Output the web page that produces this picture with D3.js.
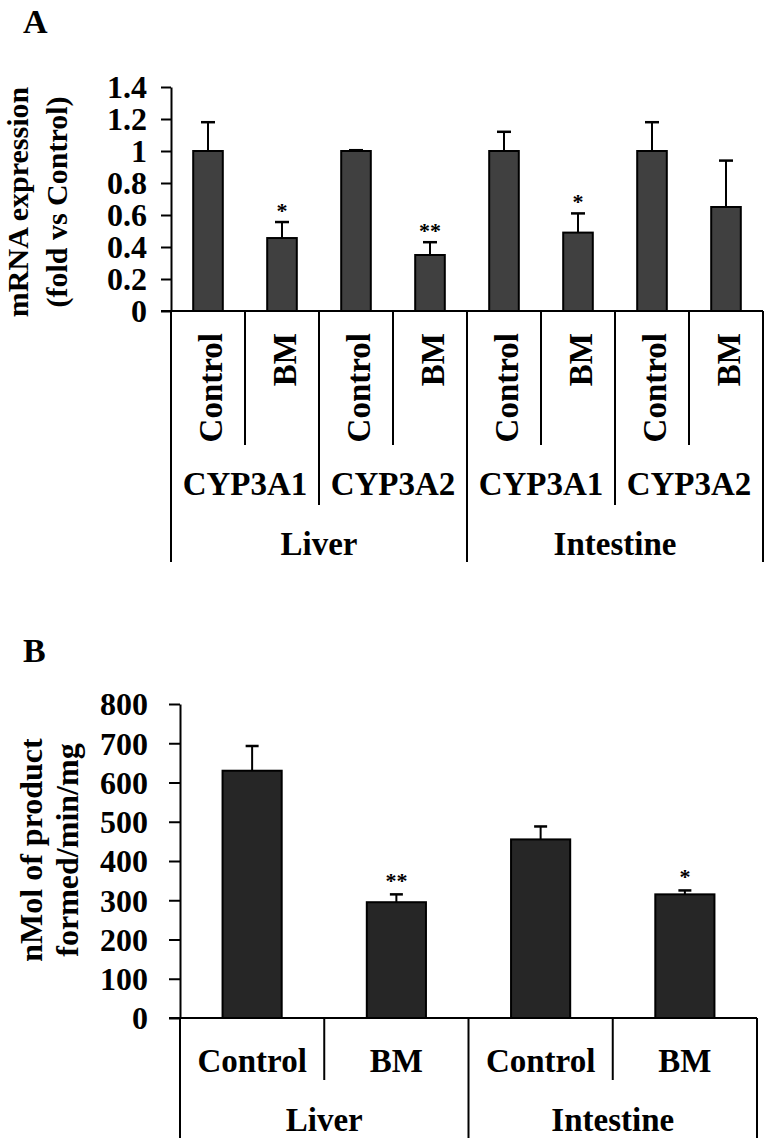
<!DOCTYPE html>
<html>
<head>
<meta charset="utf-8">
<script src="https://cdn.jsdelivr.net/npm/d3@7"></script>
<style>
  html, body { margin: 0; padding: 0; background: #fff; }
  svg { display: block; }
  text { font-family: "Liberation Serif", "Times New Roman", serif; font-weight: bold; fill: #000; }
</style>
</head>
<body>
<script>
// ---------- Panel A data ----------
const sampleA = ["Control", "BM", "Control", "BM", "Control", "BM", "Control", "BM"];
const geneA = ["CYP3A1", "CYP3A2", "CYP3A1", "CYP3A2"];
const tissueA = ["Liver", "Intestine"];
const valuesA = [1.0, 0.456, 1.0, 0.35, 1.0, 0.49, 1.0, 0.65];
const errorsA = [0.18, 0.10, 0.005, 0.08, 0.12, 0.12, 0.18, 0.29];
const sigA = ["", "*", "", "**", "", "*", "", ""];
const ticksA = [0, 0.2, 0.4, 0.6, 0.8, 1, 1.2, 1.4];
const tickLabelsA = ["0", "0.2", "0.4", "0.6", "0.8", "1", "1.2", "1.4"];
const titleA = ["mRNA expression", "(fold vs Control)"];

// ---------- Panel B data ----------
const sampleB = ["Control", "BM", "Control", "BM"];
const tissueB = ["Liver", "Intestine"];
const valuesB = [630, 295, 455, 315];
const errorsB = [63, 20, 33, 10];
const sigB = ["", "**", "", "*"];
const ticksB = [0, 100, 200, 300, 400, 500, 600, 700, 800];
const tickLabelsB = ["0", "100", "200", "300", "400", "500", "600", "700", "800"];
const titleB = ["nMol of product", "formed/min/mg"];

const W = 773, H = 1148;
const svg = d3.select("body").append("svg").attr("width", W).attr("height", H);

function panel(cfg) {
  const g = svg.append("g");
  const n = cfg.samples.length;
  const x = d3.scaleBand().domain(d3.range(n)).range([cfg.x0, cfg.x1])
    .paddingInner(cfg.padIn).paddingOuter(cfg.padIn / 2);
  const y = d3.scaleLinear().domain(cfg.domain).range([cfg.y0, cfg.yTop]);
  const step = x.step();
  const left = x(0) - x.step() * x.paddingOuter();

  // panel letter
  g.append("text").attr("x", 23).attr("y", cfg.letterY).attr("font-size", 34).text(cfg.letter);

  // y axis
  const axis = d3.axisLeft(y).tickValues(cfg.ticks)
    .tickFormat((d, i) => cfg.tickLabels[i])
    .tickSize(cfg.tickSize).tickSizeOuter(0).tickPadding(cfg.tickPad);
  const ag = g.append("g").attr("transform", `translate(${cfg.x0},0)`).call(axis);
  ag.select(".domain").attr("stroke", "#000").attr("stroke-width", 2);
  ag.selectAll(".tick line").attr("stroke", "#000").attr("stroke-width", 2);
  ag.selectAll(".tick text").attr("font-family", "Liberation Serif, serif")
    .attr("font-weight", "bold").attr("font-size", cfg.tickFont).attr("fill", "#000")
    .attr("dy", "0.34em");

  // y title
  cfg.title.forEach((t, i) => {
    g.append("text")
      .attr("transform", `translate(${cfg.titleX[i]},${cfg.titleY}) rotate(-90)`)
      .attr("text-anchor", "middle").attr("font-size", cfg.titleFont).text(t);
  });

  // bars
  g.selectAll("rect.bar").data(cfg.values).enter().append("rect")
    .attr("x", (d, i) => x(i)).attr("width", x.bandwidth())
    .attr("y", d => y(d)).attr("height", d => y(0) - y(d))
    .attr("fill", cfg.barFill).attr("stroke", "#000").attr("stroke-width", 2);

  // error bars
  const cap = cfg.cap;
  cfg.values.forEach((v, i) => {
    const cx = x(i) + x.bandwidth() / 2;
    const yt = y(v + cfg.errors[i]);
    g.append("line").attr("x1", cx).attr("x2", cx).attr("y1", y(v)).attr("y2", yt)
      .attr("stroke", "#000").attr("stroke-width", 2);
    g.append("line").attr("x1", cx - cap / 2).attr("x2", cx + cap / 2).attr("y1", yt).attr("y2", yt)
      .attr("stroke", "#000").attr("stroke-width", 2.5);
    if (cfg.sig[i]) {
      g.append("text").attr("x", cx).attr("y", yt - cfg.sigOff)
        .attr("text-anchor", "middle").attr("font-size", 22).text(cfg.sig[i]);
    }
  });

  // x baseline
  g.append("line").attr("x1", cfg.x0 - cfg.tickSize).attr("x2", cfg.x1)
    .attr("y1", y(0)).attr("y2", y(0)).attr("stroke", "#000").attr("stroke-width", 2);

  // separators
  for (let i = 0; i <= n; i++) {
    const xx = left + i * step;
    let len = cfg.sepLen[0];
    if (i % cfg.tissueSpan === 0) len = cfg.sepLen[2];
    else if (cfg.geneSpan && i % cfg.geneSpan === 0) len = cfg.sepLen[1];
    g.append("line").attr("x1", xx).attr("x2", xx).attr("y1", y(0)).attr("y2", len)
      .attr("stroke", "#000").attr("stroke-width", 2);
  }

  // sample labels
  cfg.samples.forEach((s, i) => {
    const cx = x(i) + x.bandwidth() / 2;
    if (cfg.rotateSamples) {
      g.append("text")
        .attr("transform", `translate(${cx + 14},${cfg.sampleY}) rotate(-90)`)
        .attr("text-anchor", "end").attr("font-size", cfg.catFont).text(s);
    } else {
      g.append("text").attr("x", cx).attr("y", cfg.sampleY)
        .attr("text-anchor", "middle").attr("font-size", cfg.catFont).text(s);
    }
  });

  // gene labels
  if (cfg.genes) {
    cfg.genes.forEach((s, i) => {
      const cx = left + (i + 0.5) * cfg.geneSpan * step;
      g.append("text").attr("x", cx).attr("y", cfg.geneY)
        .attr("text-anchor", "middle").attr("font-size", cfg.catFont).text(s);
    });
  }

  // tissue labels
  cfg.tissues.forEach((s, i) => {
    const cx = left + (i + 0.5) * cfg.tissueSpan * step;
    g.append("text").attr("x", cx).attr("y", cfg.tissueY)
      .attr("text-anchor", "middle").attr("font-size", cfg.catFont).text(s);
  });
}

panel({
  letter: "A", letterY: 33,
  samples: sampleA, genes: geneA, tissues: tissueA,
  values: valuesA, errors: errorsA, sig: sigA,
  ticks: ticksA, tickLabels: tickLabelsA, domain: [0, 1.4],
  x0: 171, x1: 763, y0: 311, yTop: 87, padIn: 0.6,
  tickSize: 10, tickPad: 14, tickFont: 32,
  title: titleA, titleX: [28, 67], titleY: 202, titleFont: 30,
  barFill: "#404040", cap: 14, sigOff: 4,
  geneSpan: 2, tissueSpan: 4, sepLen: [445, 505, 562],
  rotateSamples: true, sampleY: 333, geneY: 495, tissueY: 555, catFont: 33
});

panel({
  letter: "B", letterY: 662,
  samples: sampleB, genes: null, tissues: tissueB,
  values: valuesB, errors: errorsB, sig: sigB,
  ticks: ticksB, tickLabels: tickLabelsB, domain: [0, 800],
  x0: 180, x1: 757, y0: 1018, yTop: 704, padIn: 0.59,
  tickSize: 11, tickPad: 21, tickFont: 32,
  title: titleB, titleX: [42, 78], titleY: 850, titleFont: 32,
  barFill: "#262626", cap: 13, sigOff: 6,
  geneSpan: 0, tissueSpan: 2, sepLen: [1080, 1080, 1138],
  rotateSamples: false, sampleY: 1072, tissueY: 1131, catFont: 33
});
</script>
</body>
</html>
